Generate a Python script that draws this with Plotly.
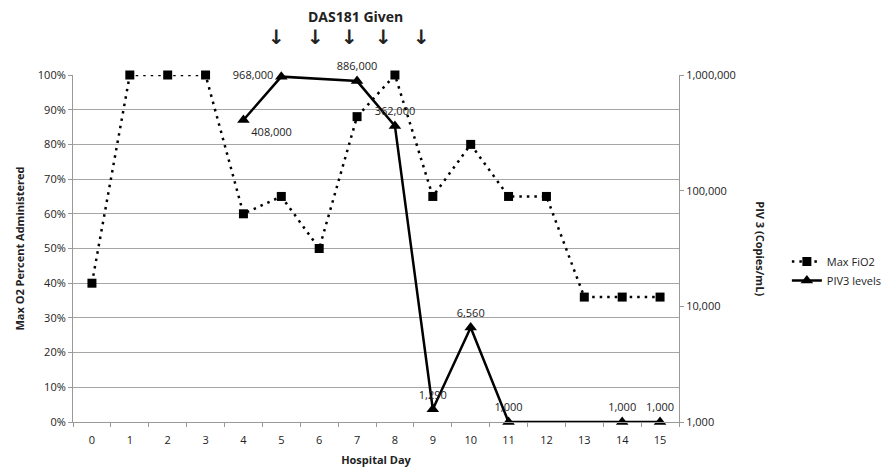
import plotly.graph_objects as go

days = [str(d) for d in range(16)]
fio2 = [0.40, 1.00, 1.00, 1.00, 0.60, 0.65, 0.50, 0.88, 1.00, 0.65, 0.80, 0.65, 0.65, 0.36, 0.36, 0.36]

piv_days = ["4", "5", "7", "8", "9", "10", "11", "14", "15"]
piv_vals = [408000, 968000, 886000, 362000, 1290, 6560, 1000, 1000, 1000]
piv_labels = ["408,000", "968,000", "886,000", "362,000", "1,290", "6,560", "1,000", "1,000", "1,000"]
piv_label_pos = ["bottom right", "middle left", "top center", "top center", "top center",
                 "top center", "top center", "top center", "top center"]

arrow_days = [4.86, 5.91, 6.81, 7.70, 8.71]

FONT = "Open Sans"

fig = go.Figure()
fig.add_trace(go.Scatter(
    x=days, y=fio2, name="Max FiO2", mode="lines+markers",
    line=dict(color="black", width=2.5, dash="2.5px,5px"),
    marker=dict(symbol="square", size=9, color="black"),
    yaxis="y", cliponaxis=False,
))
fig.add_trace(go.Scatter(
    x=piv_days, y=piv_vals, name="PIV3 levels", mode="lines+markers+text",
    line=dict(color="black", width=2.5),
    marker=dict(symbol="triangle-up", size=11, color="black"),
    text=piv_labels, textposition=piv_label_pos,
    textfont=dict(family=FONT, size=11, color="#222"),
    yaxis="y2", cliponaxis=False,
))

fig.update_layout(
    width=889, height=475,
    margin=dict(l=65, r=218, t=67, b=61, autoexpand=False),
    paper_bgcolor="white", plot_bgcolor="white",
    font=dict(family=FONT, size=11, color="#222"),
    xaxis=dict(
        type="category", categoryorder="array", categoryarray=days,
        range=[-0.5, 15.5], tickson="boundaries", ticks="outside", ticklen=4,
        tickcolor="#999", showline=True, linecolor="#999", linewidth=1,
        showgrid=False, tickfont=dict(size=11), ticklabelstandoff=8,
        title=dict(text="<b>Hospital Day</b>", font=dict(size=11), standoff=10),
    ),
    yaxis=dict(
        range=[0, 1.0], dtick=0.1, tickformat=".0%", showgrid=True,
        gridcolor="#a6a6a6", gridwidth=1, ticks="outside", ticklen=4, tickcolor="#999",
        showline=True, linecolor="#999", zeroline=False,
        title=dict(text="<b>Max O2 Percent Administered</b>", font=dict(size=11), standoff=10),
    ),
    yaxis2=dict(
        type="log", range=[2.99999, 6], overlaying="y", side="right",
        tickvals=[1000, 10000, 100000, 1000000],
        ticktext=["1,000", "10,000", "100,000", "1,000,000"],
        showgrid=False, ticks="outside", ticklen=4, tickcolor="#999",
        showline=True, linecolor="#999", zeroline=False,
    ),
    legend=dict(x=1.178, y=0.435, xanchor="left", yanchor="middle", itemwidth=30,
                font=dict(size=11), bgcolor="rgba(0,0,0,0)", tracegroupgap=0),
    showlegend=True,
)

fig.add_annotation(text="<b>PIV 3 (Copies/mL)</b>", xref="paper", yref="paper",
                   x=1.134, y=0.5, textangle=90, showarrow=False, font=dict(size=11),
                   xanchor="center", yanchor="middle")
fig.add_annotation(text="<b>DAS181 Given</b>", xref="paper", yref="paper",
                   x=(355 - 73) / 606, y=(422 - 17) / 347, xanchor="center", yanchor="middle",
                   showarrow=False, font=dict(size=14))
for a in arrow_days:
    fig.add_annotation(text="<b>↓</b>", xref="x", yref="paper", x=a, y=(422 - 37) / 347,
                       xanchor="center", yanchor="middle",
                       showarrow=False, font=dict(size=20, family="DejaVu Sans"))

fig.write_html("out.html")
